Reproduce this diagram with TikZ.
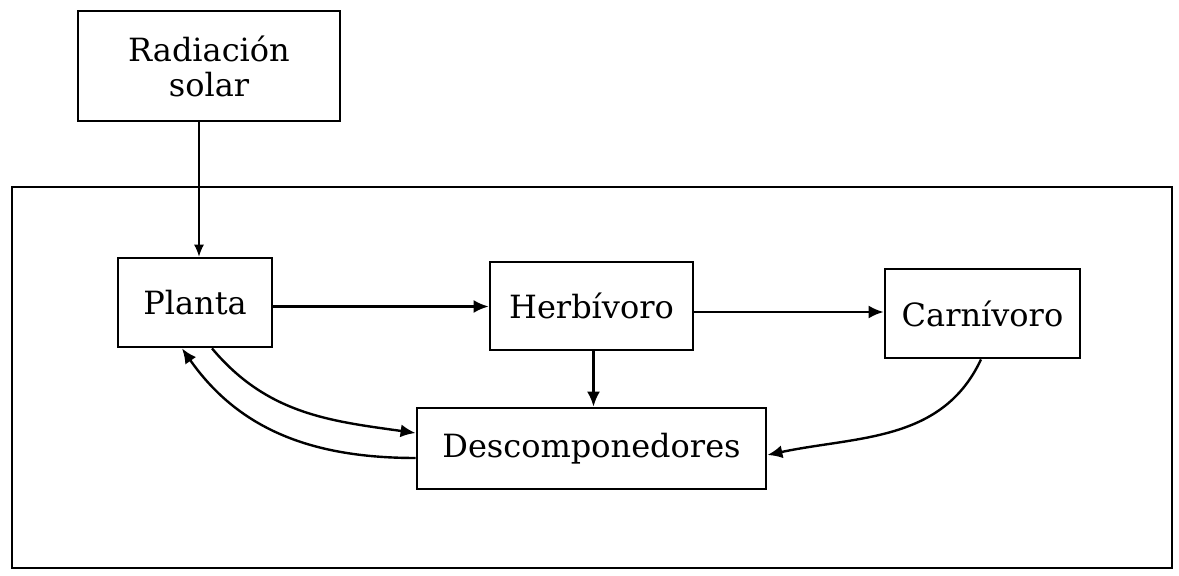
\documentclass[tikz,border=0pt]{standalone}
\usepackage{fontspec}
\setmainfont{DejaVu Serif}
\usetikzlibrary{arrows.meta}
\begin{document}
\begin{tikzpicture}[x=0.5pt,y=-0.5pt,
  box/.style={draw, line width=1.4pt, rectangle, inner sep=0pt,
    font=\fontsize{16}{17.5}\selectfont, align=center},
  framebox/.style={draw, line width=1.4pt, rectangle, inner sep=0pt},
  arr/.style={line width=1.2pt, -{Latex[length=7.5pt,width=6.5pt]}},
  thinarr/.style={line width=0.6pt, -{Latex[length=6pt,width=5pt]}}]
\useasboundingbox (0,0) rectangle (1179,576);
\fill[white] (0,0) rectangle (1179,576);
\node[framebox, minimum width=580pt, minimum height=190.5pt] (system) at (592,377.5) {};
\node[box, minimum width=131pt, minimum height=55pt] (rad) at (209,66) {Radiación\\solar};
\node[box, minimum width=77pt, minimum height=44.5pt] (planta) at (195,302.5) {Planta};
\node[box, minimum width=101.5pt, minimum height=44pt] (herb) at (591.5,306) {Herbívoro};
\node[box, minimum width=97.5pt, minimum height=44.5pt] (carn) at (982.5,313.5) {Carnívoro};
\node[box, minimum width=174.5pt, minimum height=40.5pt] (desc) at (591.5,448.5) {Descomponedores};
% connectors
\draw[thinarr] ([xshift=-5pt]rad.south) -- ([xshift=-5pt]rad.south |- planta.north);
\draw[arr] ([yshift=-2pt]planta.east) -- ([yshift=-2pt]planta.east -| herb.west);
\draw[arr] ([yshift=-3pt]herb.east) -- ([yshift=-3pt]herb.east -| carn.west);
\draw[arr] ([xshift=1pt]herb.south) -- ([xshift=1pt]desc.north);
\draw[arr] ([xshift=8.5pt]planta.south) to[out=-50,in=172] ([yshift=7.75pt]desc.west);
\draw[arr] ([yshift=-4.75pt]desc.west) to[out=180,in=-55] ([xshift=-6.5pt]planta.south);
\draw[arr] ([xshift=-0.75pt]carn.south) to[out=-115,in=12] ([yshift=-3.25pt]desc.east);
\end{tikzpicture}
\end{document}
